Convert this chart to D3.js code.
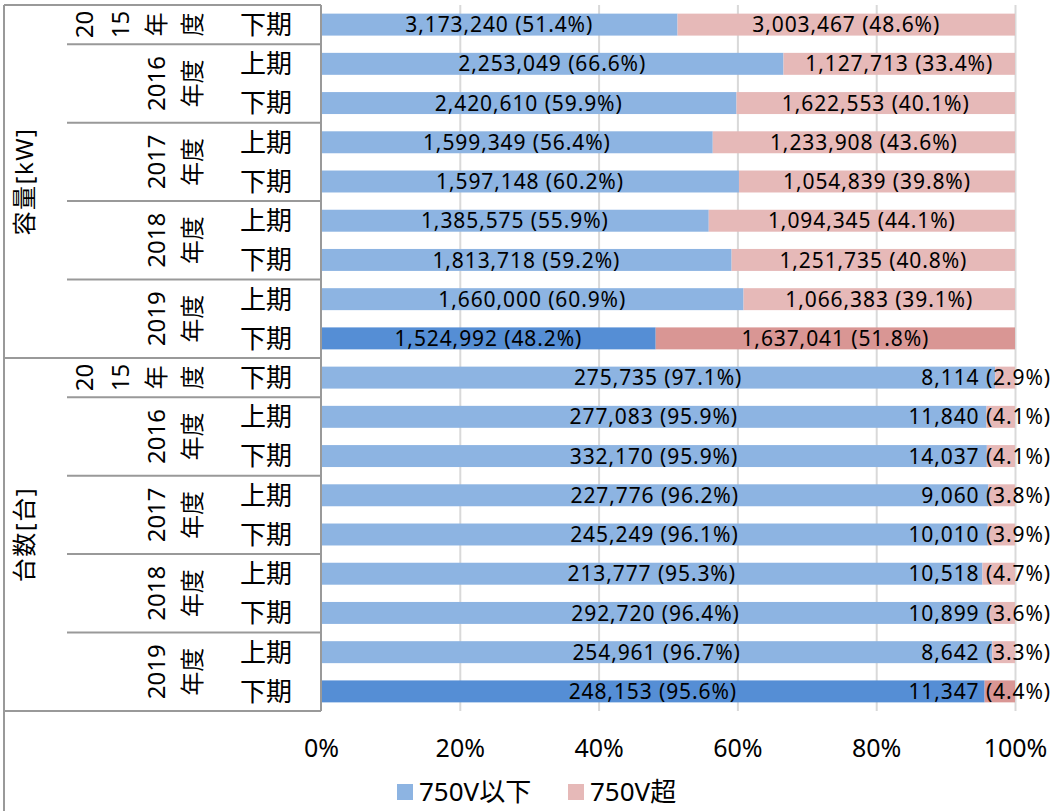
<!DOCTYPE html>
<html>
<head>
<meta charset="utf-8">
<script src="https://cdn.jsdelivr.net/npm/d3@7"></script>
<style>
  body { margin: 0; background: #fff; }
  svg { display: block; font-family: "Noto Sans", "Noto Sans CJK JP", sans-serif; }
</style>
</head>
<body>
<svg id="chart" width="1054" height="811"></svg>
<script>
// Chart data
const sections = ["容量[kW]", "台数[台]"];
const fiscalYears = ["2015年度", "2016年度", "2016年度", "2017年度", "2017年度", "2018年度", "2018年度", "2019年度", "2019年度"];
const periods = ["下期", "上期", "下期", "上期", "下期", "上期", "下期", "上期", "下期"];
const kwBelow = [3173240, 2253049, 2420610, 1599349, 1597148, 1385575, 1813718, 1660000, 1524992];
const kwAbove = [3003467, 1127713, 1622553, 1233908, 1054839, 1094345, 1251735, 1066383, 1637041];
const unitsBelow = [275735, 277083, 332170, 227776, 245249, 213777, 292720, 254961, 248153];
const unitsAbove = [8114, 11840, 14037, 9060, 10010, 10518, 10899, 8642, 11347];
const seriesNames = ["750V以下", "750V超"];
const xTicks = [0, 0.2, 0.4, 0.6, 0.8, 1];
const highlightIndex = 8; // latest period is drawn darker

// Layout
const W = 1054, H = 811;
const plotLeft = 321, plotRight = 1015, plotTop = 5, plotBottom = 711;
const colors = { below: "#8DB4E2", above: "#E6B9B8", belowHl: "#558ED5", aboveHl: "#D99694" };
const lineColor = "#999999";

// Build rows
const rows = [];
sections.forEach((sec, si) => {
    const below = si === 0 ? kwBelow : unitsBelow;
    const above = si === 0 ? kwAbove : unitsAbove;
    periods.forEach((p, i) => {
        rows.push({
            key: si + "-" + i,
            section: sec,
            year: fiscalYears[i],
            period: p,
            below: below[i],
            above: above[i],
            hl: i === highlightIndex
        });
    });
});

const svg = d3.select("#chart");
svg.append("rect").attr("width", W).attr("height", H).attr("fill", "#fff");

const x = d3.scaleLinear().domain([0, 1]).range([plotLeft, plotRight]);
const y = d3.scaleBand()
    .domain(rows.map(d => d.key))
    .range([plotTop, plotBottom])
    .paddingInner(0.44)
    .paddingOuter(0.22);
const step = y.step();

// Gridlines
svg.append("g")
    .attr("transform", `translate(0,${plotBottom})`)
    .call(d3.axisBottom(x).tickValues(xTicks.slice(1)).tickSize(-(plotBottom - plotTop)).tickFormat(""))
    .call(g => g.select(".domain").remove())
    .call(g => g.selectAll(".tick line").attr("stroke", "#d9d9d9").attr("stroke-width", 2));

// Tick labels
svg.append("g")
    .attr("transform", `translate(0,${plotBottom})`)
    .call(d3.axisBottom(x).tickValues(xTicks).tickSize(0).tickPadding(0).tickFormat(d3.format(".0%")))
    .call(g => g.select(".domain").remove())
    .call(g => g.selectAll(".tick text")
        .attr("y", 46)
        .attr("dy", null)
        .attr("fill", "#000")
        .style("font-size", "25px")
        .style("font-family", "'Noto Sans', sans-serif"));

// Bars
const fmt = d3.format(",");
const pct = d3.format(".1%");
const barG = svg.append("g");
rows.forEach(d => {
    const total = d.below + d.above;
    const s1 = d.below / total;
    const yy = y(d.key);
    barG.append("rect")
        .attr("x", x(0)).attr("y", yy)
        .attr("width", x(s1) - x(0)).attr("height", y.bandwidth())
        .attr("fill", d.hl ? colors.belowHl : colors.below);
    barG.append("rect")
        .attr("x", x(s1)).attr("y", yy)
        .attr("width", x(1) - x(s1)).attr("height", y.bandwidth())
        .attr("fill", d.hl ? colors.aboveHl : colors.above);
    d.s1 = s1;
});

// Value labels
const labelG = svg.append("g")
    .style("font-size", "21px")
    .style("letter-spacing", "0.9px")
    .attr("fill", "#000");
rows.forEach(d => {
    const cy = y(d.key) + y.bandwidth() / 2;
    labelG.append("text")
        .attr("x", (x(0) + x(d.s1)) / 2)
        .attr("y", cy)
        .attr("dy", "0.36em")
        .attr("text-anchor", "middle")
        .text(`${fmt(d.below)} (${pct(d.s1)})`);
    const t = labelG.append("text")
        .attr("y", cy)
        .attr("dy", "0.36em")
        .attr("text-anchor", "middle")
        .text(`${fmt(d.above)} (${pct(1 - d.s1)})`);
    const w = t.node().getComputedTextLength();
    const cx = Math.min((x(d.s1) + x(1)) / 2, 1051 - w / 2);
    t.attr("x", cx);
});

// Category axis (multi level)
const axisG = svg.append("g");
const line = (x1, y1, x2, y2) => axisG.append("line")
    .attr("x1", x1).attr("y1", y1).attr("x2", x2).attr("y2", y2)
    .attr("stroke", lineColor).attr("stroke-width", 2);

line(plotLeft, plotTop, plotLeft, plotBottom);
line(4, plotTop, 4, H);
line(4, plotTop, plotLeft, plotTop);

// Period labels
rows.forEach(d => {
    axisG.append("text")
        .attr("x", 266)
        .attr("y", y(d.key) + y.bandwidth() / 2)
        .attr("dy", "0.36em")
        .attr("text-anchor", "middle")
        .style("font-size", "26px")
        .text(d.period);
});

// Group runs of consecutive rows
function runs(keyFn) {
    const out = [];
    rows.forEach((d, i) => {
        const k = keyFn(d);
        const last = out[out.length - 1];
        if (last && last.k === k) last.end = i;
        else out.push({ k, label: d, start: i, end: i });
    });
    return out;
}

const measure = svg.append("text").style("font-size", "24px").attr("visibility", "hidden");
function textWidth(s) {
    measure.text(s);
    return measure.node().getComputedTextLength();
}
function wrapChars(s, maxW) {
    const lines = [];
    let cur = "";
    for (const ch of s) {
        if (cur && textWidth(cur + ch) > maxW) { lines.push(cur); cur = ch; }
        else cur += ch;
    }
    if (cur) lines.push(cur);
    return lines;
}

// Year labels
const yearRuns = runs(d => d.section + d.year);
yearRuns.forEach(r => {
    const top = plotTop + r.start * step;
    const bottom = plotTop + (r.end + 1) * step;
    const cy = (top + bottom) / 2;
    const lines = wrapChars(r.label.year, bottom - top - 6);
    const lastX = 192, gap = 36;
    lines.forEach((ln, i) => {
        const cx = lastX - (lines.length - 1 - i) * gap;
        axisG.append("text")
            .attr("transform", `translate(${cx},${cy}) rotate(-90)`)
            .attr("text-anchor", "middle")
            .attr("dy", "0.36em")
            .style("font-size", "24px")
            .text(ln);
    });
    if (r.end < rows.length - 1 && rows[r.end + 1].section === r.label.section) {
        line(67, bottom, plotLeft, bottom);
    }
});
measure.remove();

// Section labels
const secRuns = runs(d => d.section);
secRuns.forEach(r => {
    const top = plotTop + r.start * step;
    const bottom = plotTop + (r.end + 1) * step;
    axisG.append("text")
        .attr("transform", `translate(24,${(top + bottom) / 2}) rotate(-90)`)
        .attr("text-anchor", "middle")
        .attr("dy", "0.36em")
        .style("font-size", "24px")
        .style("letter-spacing", "1.5px")
        .text(r.k);
    line(4, bottom, plotLeft, bottom);
});

// Legend
const legend = svg.append("g").attr("transform", "translate(397,784)");
const legendItems = [
    { name: seriesNames[0], color: colors.below, dx: 0 },
    { name: seriesNames[1], color: colors.above, dx: 171 }
];
legendItems.forEach(it => {
    const g = legend.append("g").attr("transform", `translate(${it.dx},0)`);
    g.append("rect").attr("width", 16).attr("height", 16).attr("fill", it.color);
    g.append("text")
        .attr("x", 22).attr("y", 8).attr("dy", "0.36em")
        .style("font-size", "26px")
        .text(it.name);
});
</script>
</body>
</html>
